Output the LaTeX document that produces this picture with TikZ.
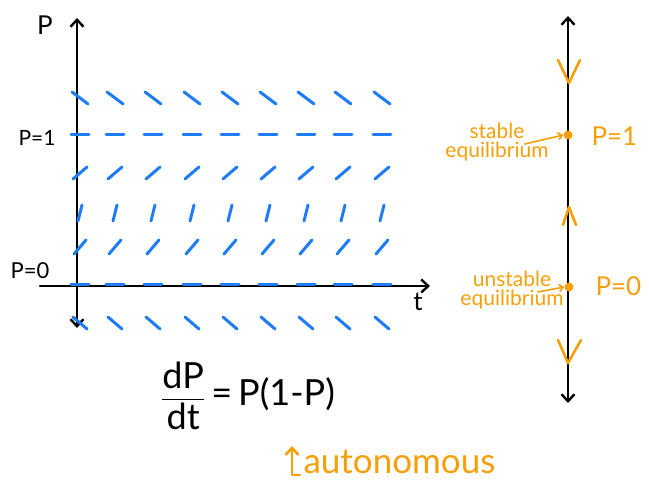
\documentclass[tikz,border=0pt]{standalone}
\usepackage{amsmath}
\usepackage{fontspec}
\setmainfont{Lato}
\usetikzlibrary{arrows.meta}
\definecolor{fieldblue}{RGB}{30,125,245}
\definecolor{sketchorange}{RGB}{245,160,10}

\begin{document}
\begin{tikzpicture}[x=1pt, y=-1pt, line cap=round, line join=round,
  >={Straight Barb[length=7pt,width=13pt]},
  axis/.style={line width=2.4pt, black},
  slope/.style={line width=3pt, fieldblue},
  chevron/.style={line width=2.6pt, sketchorange},
  eqdot/.style={circle, fill=sketchorange, inner sep=0pt, minimum size=9pt},
  biglbl/.style={font=\fontsize{26}{28}\selectfont},
  orangelbl/.style={text=sketchorange, font=\fontsize{26}{28}\selectfont},
  notelbl/.style={text=sketchorange, align=center, inner sep=0pt,
    font=\fontsize{21}{19}\selectfont}]
\useasboundingbox (0,0) rectangle (649,489);

% axes
\coordinate (vbot) at (77,328);
\coordinate (vtop) at (77,18);
\coordinate (hleft) at (40,286);
\coordinate (hright) at (430,286);
\draw[axis, <->] (vbot) -- (vtop);
\draw[axis, ->] (hleft) -- (hright);
\node[biglbl] (plbl) at (45,25) {P};
\node[biglbl] (tlbl) at (418,302) {t};
\node[font=\fontsize{21}{23}\selectfont] (p1lbl) at (37,138) {P=1};
\node[font=\fontsize{22}{24}\selectfont] (p0lbl) at (30,271) {P=0};

% slope field, one row per value of P
\foreach \y/\dx/\dy in {98/8/6, 135/9/0, 173/7/-6, 213/2/-8, 247/6/-7, 285/9/0, 323/7/6}
  \foreach \x in {80,115,153,192,230,268,306,343,382}
    \draw[slope] (\x-\dx,\y-\dy) -- (\x+\dx,\y+\dy);

% phase line
\coordinate (ptop) at (568,16);
\coordinate (pbot) at (568,403);
\draw[axis, <->] (pbot) -- (ptop);
\draw[chevron] (558,60) -- (569,83) -- (580,60);
\draw[chevron] (563,225) -- (569,207) -- (576,225);
\draw[chevron] (558,340) -- (568,363) -- (581,340);
\node[eqdot] (stab) at (568,135) {};
\node[eqdot] (unstab) at (569,287) {};
\node[orangelbl, anchor=west] (stabval) at (588,136) {P=1};
\node[orangelbl, anchor=west] (unstabval) at (592,286) {P=0};
\node[notelbl] (stabnote) at (497,142) {stable\\equilibrium};
\node[notelbl] (unstabnote) at (512,290) {unstable\\equilibrium};
\draw[chevron, line width=1.6pt, -{Straight Barb[length=4pt,width=7pt]}]
  ([xshift=-24pt,yshift=-2pt]stabnote.east) -- (stab.west);
\draw[chevron, line width=1.6pt, -{Straight Barb[length=4pt,width=7pt]}]
  ([xshift=-26pt,yshift=-2pt]unstabnote.east) -- (unstab.west);

% equation
\node[font=\fontsize{36}{38}\selectfont] (ode) at (248,396)
  {$\dfrac{\mathrm{dP}}{\mathrm{dt}}$\,=\,P(1-P)};
\node[text=sketchorange, anchor=base west, font=\fontsize{35}{37}\selectfont] (autolbl) at (300,474) {autonomous};
\draw[chevron, ->] ([yshift=-1pt]autolbl.base west) -| (292,446);
\end{tikzpicture}
\end{document}
